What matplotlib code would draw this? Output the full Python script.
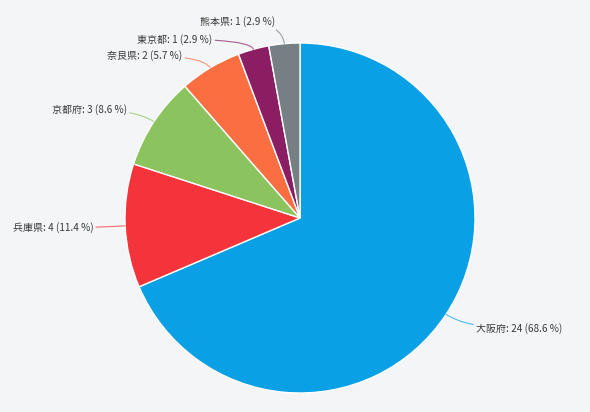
import matplotlib
matplotlib.use("Agg")
from matplotlib import pyplot as plt
import numpy as np

plt.rcParams['font.family'] = ['Noto Sans CJK JP', 'DejaVu Sans']

# データ
labels = ["大阪府", "兵庫県", "京都府", "奈良県", "東京都", "熊本県"]
counts = [24, 4, 3, 2, 1, 1]
colors = ["#0aa0e6", "#f5333a", "#8bc35e", "#fa6e41", "#8b1e63", "#767f84"]
# ラベルの位置 (円の縁からのずれ, px)
label_off = [(25, -14), (-27, -2), (-22, 12), (-23, 12), (-36, 10), (-4, 22)]

W, H = 590, 412
cx, cy, r = 300, 194, 175

fig = plt.figure(figsize=(W / 100, H / 100), dpi=100)
fig.patch.set_facecolor("#f3f5f6")
ax = fig.add_axes([0, 0, 1, 1])
ax.set_xlim(0, W)
ax.set_ylim(0, H)
ax.set_aspect("equal")
ax.axis("off")

wedges, _ = ax.pie(counts, colors=colors, startangle=90, counterclock=False,
                   center=(cx, cy), radius=r,
                   wedgeprops=dict(edgecolor="white", linewidth=1.0))
ax.set_xlim(0, W)
ax.set_ylim(0, H)

total = sum(counts)
for w, lab, n, c, (dx, dy) in zip(wedges, labels, counts, colors, label_off):
    ang = np.deg2rad((w.theta1 + w.theta2) / 2)
    ex = cx + r * np.cos(ang)
    ey = cy + r * np.sin(ang)
    tx, ty = ex + dx, ey + dy
    pct = n / total * 100
    ha = "left" if dx > 0 else "right"
    gap = 5 if dx > 0 else -5
    ax.annotate(f"{lab}: {n} ({pct:.1f} %)", xy=(ex, ey), xytext=(tx + gap, ty),
                ha=ha, va="center", fontsize=7.2, color="#3a3a3a",
                arrowprops=dict(arrowstyle="-", color=c, lw=0.8, alpha=0.7,
                                shrinkA=0, shrinkB=0,
                                connectionstyle="angle3,angleA=0,angleB=%d" % (np.rad2deg(ang))))

fig.savefig("out.png", dpi=100, facecolor=fig.get_facecolor())
